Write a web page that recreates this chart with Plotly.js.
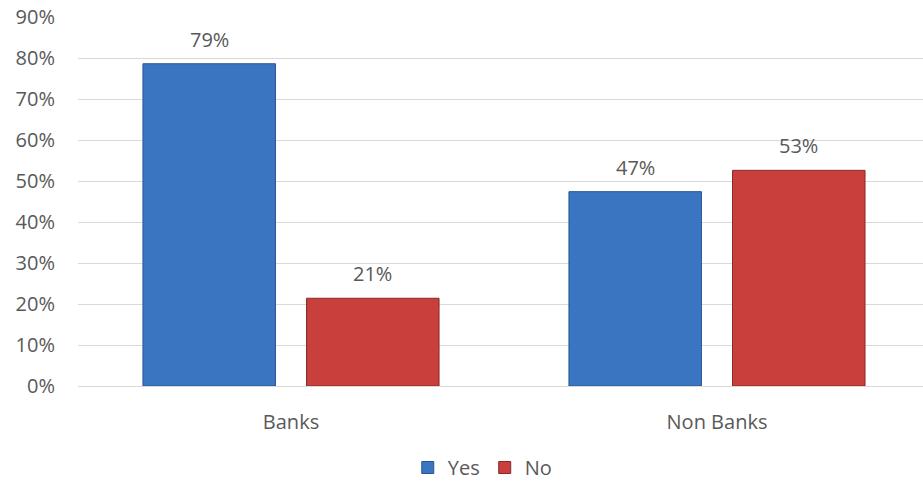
<!DOCTYPE html>
<html><head><meta charset="utf-8">
<script src="https://cdn.plot.ly/plotly-3.0.1.min.js"></script>
<style>html,body{margin:0;padding:0;background:#fff}#chart{width:923px;height:487px}</style>
</head><body><div id="chart"></div>
<script>
const categories = ["Banks", "Non Banks"];
const yesValues = [78.6, 47.4];
const noValues = [21.4, 52.6];
const seriesNames = ["Yes", "No"];
const yTicks = [0, 10, 20, 30, 40, 50, 60, 70, 80, 90];
const yTickLabels = ["0%", "10%", "20%", "30%", "40%", "50%", "60%", "70%", "80%", "90%"];

const font = "Open Sans, Liberation Sans, sans-serif";
const textColor = "#595959";
const fs = 20;

const traces = [
  {type: "bar", name: seriesNames[0], x: categories, y: yesValues,
   marker: {color: "#3a75c2", line: {color: "#2a5590", width: 1}}, hoverinfo: "none"},
  {type: "bar", name: seriesNames[1], x: categories, y: noValues,
   marker: {color: "#c93f3c", line: {color: "#8a2a27", width: 1}}, hoverinfo: "none"}
];

const slot = 0.192;
const annotations = [];
[yesValues, noValues].forEach((vals, s) => {
  vals.forEach((v, i) => {
    annotations.push({x: i + (s === 0 ? -slot : slot), y: v, xref: "x", yref: "y",
      text: Math.round(v) + "%", showarrow: false, yanchor: "bottom", yshift: 9,
      font: {family: font, size: fs, color: textColor}});
  });
});

const layout = {
  width: 923, height: 487,
  margin: {l: 78, r: 0, t: 17, b: 95},
  paper_bgcolor: "#fff", plot_bgcolor: "#fff",
  barmode: "group", bargap: 0.232, bargroupgap: 0.19,
  font: {family: font, size: fs, color: textColor},
  xaxis: {type: "category", range: [-0.5, 1.4836], showgrid: false, zeroline: false,
    showline: false, ticks: "", ticklabelstandoff: 22,
    tickfont: {family: font, size: fs, color: textColor}},
  yaxis: {range: [0, 90], tickmode: "array", tickvals: yTicks, ticktext: yTickLabels,
    showgrid: true, gridcolor: "#d9d9d9", gridwidth: 1, zeroline: true, zerolinecolor: "#d9d9d9",
    zerolinewidth: 1, showline: false, ticks: "", ticklabelstandoff: 22,
    tickfont: {family: font, size: fs, color: textColor}},
  showlegend: true,
  legend: {orientation: "h", x: 0.479, xanchor: "center", y: -0.221, yanchor: "middle",
    font: {family: font, size: fs, color: textColor}, itemwidth: 30, tracegroupgap: 0},
  annotations: annotations
};

Plotly.newPlot("chart", traces, layout, {displayModeBar: false, staticPlot: true});
</script></body></html>
